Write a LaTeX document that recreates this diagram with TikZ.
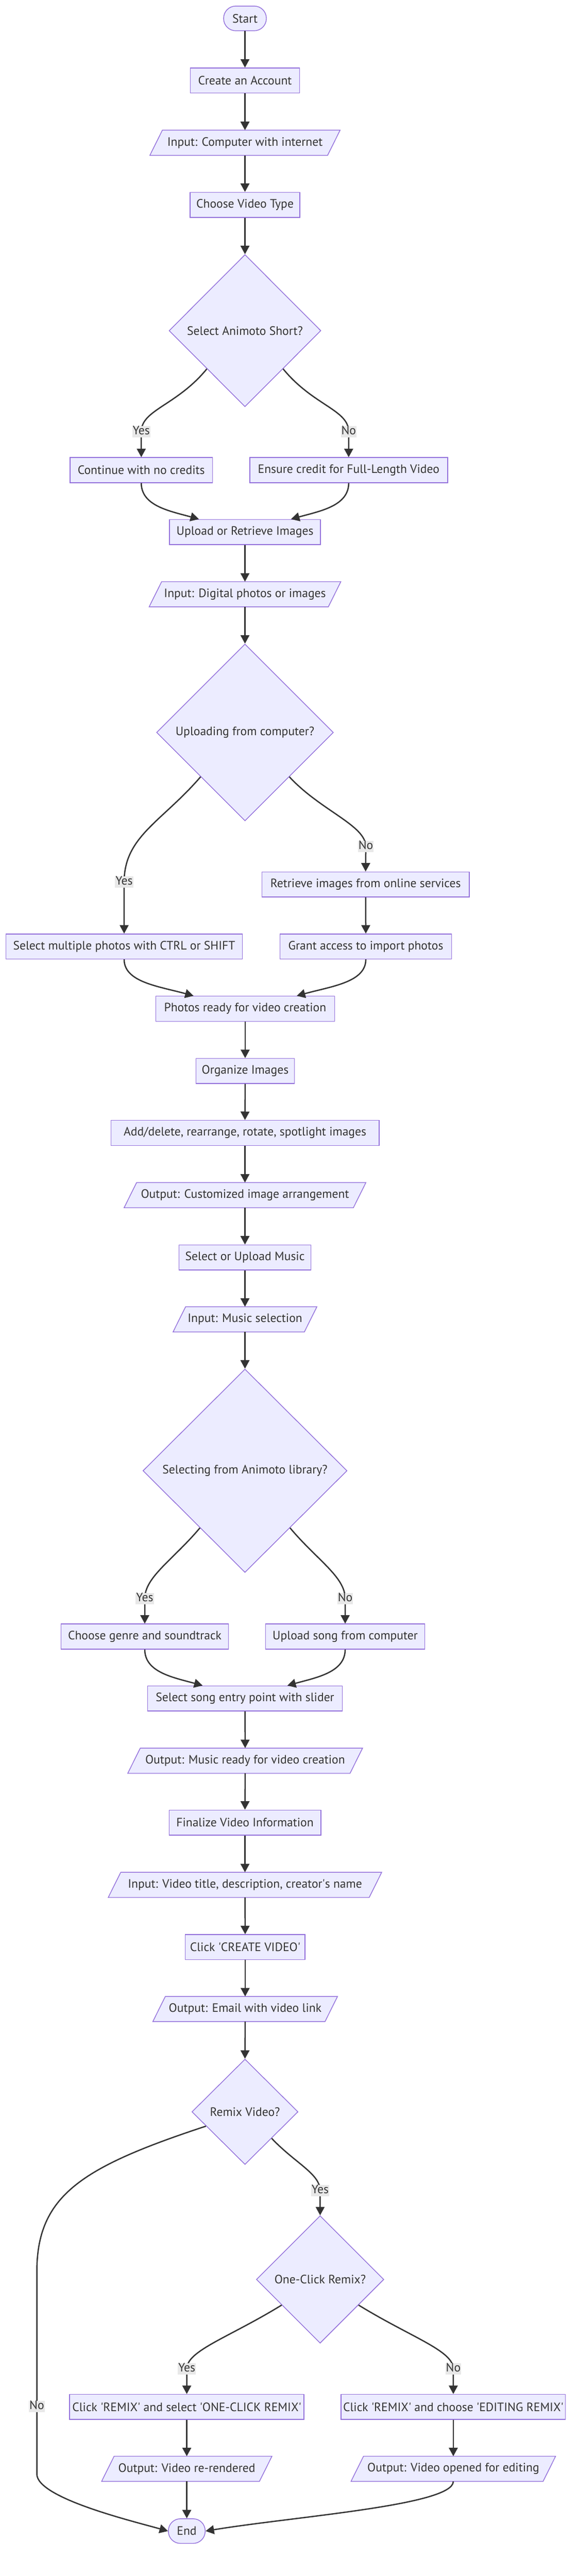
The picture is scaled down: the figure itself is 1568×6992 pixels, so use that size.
\documentclass[tikz,border=0pt]{standalone}
\usepackage{fontspec}
\setmainfont{PT Sans}
\usetikzlibrary{shapes.geometric,arrows.meta,calc,backgrounds}
\definecolor{nodefill}{HTML}{ECECFF}
\definecolor{nodeline}{HTML}{9370DB}
\definecolor{edgecol}{HTML}{333333}
\definecolor{lblfill}{HTML}{E8E8E8}
\definecolor{txtcol}{HTML}{333333}
\newcommand{\aposq}{\textquotesingle}
\begin{document}
\begin{tikzpicture}[x=1pt,y=-1pt,
  every node/.style={font=\fontsize{33}{40}\selectfont, text=txtcol},
  proc/.style={rectangle, draw=nodeline, fill=nodefill, line width=2pt, minimum height=68pt, minimum width=#1pt, inner sep=0pt},
  io/.style={rectangle, draw=none, minimum height=68pt, minimum width=#1pt, inner sep=0pt},
  iobox/.style={draw=nodeline, fill=nodefill, line width=2pt, line join=miter},
  term/.style={rectangle, rounded corners=33pt, draw=nodeline, fill=nodefill, line width=2pt, minimum height=67pt, minimum width=#1pt, inner sep=0pt},
  dec/.style 2 args={diamond, aspect=1, draw=nodeline, fill=nodefill, line width=2pt, minimum width=#1pt, minimum height=#2pt, inner sep=0pt},
  edge/.style={draw=edgecol, line width=3.5pt, -{Triangle[length=23pt,width=24pt]}},
  lbl/.style={fill=lblfill, inner sep=0pt, inner xsep=1.5pt, text height=23pt, text depth=8pt}
]
\useasboundingbox (0,0) rectangle (1568,6992);

% ---------- nodes ----------
\node[term=116] (start) at (665,50) {Start};
\node[proc=296] (acct) at (665,218.5) {Create an Account};
\node[io=516] (in1) at (665,387.5) {Input: Computer with internet};
\node[proc=298] (vtype) at (665,556) {Choose Video Type};
\node[dec={412}{413}] (d1) at (665,897.5) {Select Animoto Short?};
\node[proc=387] (cont) at (383.5,1276) {Continue with no credits};
\node[proc=537] (ensure) at (946.5,1276) {Ensure credit for Full-Length Video};
\node[proc=410] (upload) at (665,1444) {Upload or Retrieve Images};
\node[io=520] (in2) at (665,1613) {Input: Digital photos or images};
\node[dec={480}{480}] (d2) at (665,1988) {Uploading from computer?};
\node[proc=563] (retr) at (992.5,2400.5) {Retrieve images from online services};
\node[proc=642] (multi) at (337,2569) {Select multiple photos with CTRL or SHIFT};
\node[proc=466] (grant) at (993,2569) {Grant access to import photos};
\node[proc=485] (ready) at (665.5,2738) {Photos ready for video creation};
\node[proc=267] (org) at (665.5,2907) {Organize Images};
\node[proc=728] (edit) at (665,3075) {Add/delete, rearrange, rotate, spotlight images};
\node[io=656] (outcust) at (665,3244) {Output: Customized image arrangement};
\node[proc=358] (music) at (665,3413) {Select or Upload Music};
\node[io=390] (inmusic) at (665,3581) {Input: Music selection};
\node[dec={554}{552}] (d3) at (665,3992) {Selecting from Animoto library?};
\node[proc=454] (genre) at (393,4442) {Choose genre and soundtrack};
\node[proc=432] (song) at (937,4442) {Upload song from computer};
\node[proc=528] (entry) at (665,4610) {Select song entry point with slider};
\node[io=637] (outmusic) at (665.5,4779) {Output: Music ready for video creation};
\node[proc=412] (final) at (665,4947) {Finalize Video Information};
\node[io=742] (intitle) at (665,5116) {Input: Video title, description, creator\aposq s name};
\node[proc=325] (create) at (665.5,5285) {Click \aposq CREATE VIDEO\aposq};
\node[io=501] (outemail) at (665.5,5453) {Output: Email with video link};
\node[dec={288}{286}] (d4) at (665,5732) {Remix Video?};
\node[dec={346}{346}] (d5) at (869,6187) {One-Click Remix?};
\node[proc=636] (r1) at (507,6533) {Click \aposq REMIX\aposq\ and select \aposq ONE-CLICK REMIX\aposq};
\node[proc=609] (r2) at (1230.5,6533) {Click \aposq REMIX\aposq\ and choose \aposq EDITING REMIX\aposq};
\node[io=462] (o1) at (507,6701) {Output: Video re-rendered};
\node[io=555] (o2) at (1230.5,6701) {Output: Video opened for editing};
\node[term=100] (end) at (507,6870) {End};

% ---------- straight connectors ----------
\foreach \a/\b in {start/acct, acct/in1, in1/vtype, vtype/d1, upload/in2, in2/d2,
  retr/grant, ready/org, org/edit, edit/outcust, outcust/music, music/inmusic, inmusic/d3,
  entry/outmusic, outmusic/final, final/intitle, intitle/create, create/outemail, outemail/d4,
  r1/o1, r2/o2, o1/end}
  \draw[edge] (\a.south) -- (\b.north);

% ---------- decision branches ----------
\draw[edge] (d1.south west) .. controls +(-82,100) and +(0,-60) .. (383.5,1172) node[lbl]{Yes} -- (cont.north);
\draw[edge] (d1.south east) .. controls +(82,100) and +(0,-60) .. (946.5,1172) node[lbl]{No} -- (ensure.north);

\draw[edge] (d2.south east) .. controls +(85,92) and +(0,-58) .. (993,2298) node[lbl]{No} -- (retr.north);
\draw[edge] (d2.south west) .. controls +(-105,122) and +(0,-124) .. (337,2394) node[lbl]{Yes} -- (multi.north);

\draw[edge] ($(d3.west)!0.56!(d3.south)$) .. controls +(-73,87) and +(0,-59) .. (393,4339) node[lbl]{Yes} -- (genre.north);
\draw[edge] ($(d3.east)!0.56!(d3.south)$) .. controls +(73,87) and +(0,-59) .. (937,4339) node[lbl]{No} -- (song.north);

\draw[edge] (d4.south east) .. controls +(63,67) and +(0,-46) .. (869,5946) node[lbl]{Yes} -- (d5.north);
\draw[edge] ($(d4.west)!0.27!(d4.south)$) .. controls +(-340,112) and +(0,-207) .. (100,6167)
   -- (100,6532) node[lbl]{No} -- (100,6715) .. controls +(0,65) and +(-100,-28) .. (end.west);

\draw[edge] ($(d5.west)!0.4!(d5.south)$) .. controls +(-145,89) and +(0,-50) .. (507,6430) node[lbl]{Yes} -- (r1.north);
\draw[edge] ($(d5.east)!0.4!(d5.south)$) .. controls +(145,89) and +(0,-50) .. (1230.5,6430) node[lbl]{No} -- (r2.north);

% ---------- merging connectors ----------
\draw[edge] (cont.south) .. controls +(0,62) and +(-80,-22) .. ([xshift=-125pt]upload.north);
\draw[edge] (ensure.south) .. controls +(0,62) and +(80,-22) .. ([xshift=125pt]upload.north);
\draw[edge] (multi.south) .. controls +(0,62) and +(-95,-26) .. ([xshift=-140pt]ready.north);
\draw[edge] (grant.south) .. controls +(0,62) and +(95,-26) .. ([xshift=140pt]ready.north);
\draw[edge] (genre.south) .. controls +(0,62) and +(-80,-22) .. ([xshift=-115pt]entry.north);
\draw[edge] (song.south) .. controls +(0,62) and +(80,-22) .. ([xshift=115pt]entry.north);
\draw[edge] (o2.south) .. controls +(0,65) and +(243,-40) .. (end.east);

% ---------- background: page and parallelograms ----------
\begin{scope}[on background layer]
  \fill[white] (0,0) rectangle (1568,6992);
  \foreach \n in {in1,in2,outcust,inmusic,outmusic,intitle,outemail,o1,o2}
    \draw[iobox] ([xshift=34pt]\n.north west) -- (\n.north east) -- ([xshift=-34pt]\n.south east) -- (\n.south west) -- cycle;
\end{scope}
\end{tikzpicture}
\end{document}
